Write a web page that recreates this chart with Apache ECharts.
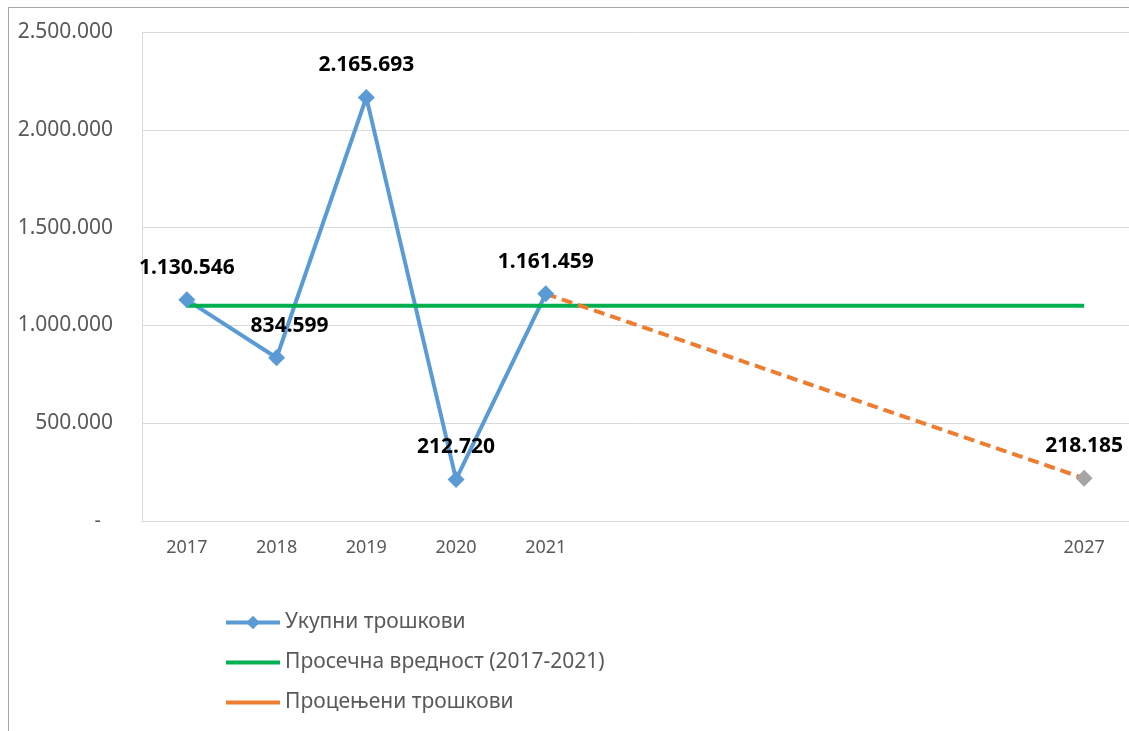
<!DOCTYPE html>
<html>
<head>
<meta charset="utf-8">
<script src="https://cdn.jsdelivr.net/npm/echarts@6/dist/echarts.min.js"></script>
<style>
  html, body { margin: 0; padding: 0; background: #fff; overflow: hidden; }
  #frame { position: absolute; left: 8px; top: 7px; width: 1300px; height: 900px;
           border-left: 1px solid #a6a6a6; border-top: 1px solid #a6a6a6; }
  #chart { position: absolute; left: 0; top: 0; width: 1129px; height: 731px; }
</style>
</head>
<body>
<div id="frame"></div>
<div id="chart"></div>
<script>
// godine na x osi (2022-2026 bez natpisa)
const years = ['2017', '2018', '2019', '2020', '2021', '', '', '', '', '', '2027']
const ukupni = [1130546, 834599, 2165693, 212720, 1161459, null, null, null, null, null, null]
const prosek = [1101003, 1101003, 1101003, 1101003, 1101003, 1101003, 1101003, 1101003, 1101003, 1101003, 1101003]
const procenjeni = [null, null, null, null, 1161459, null, null, null, null, null, 218185]
const names = ['Укупни трошкови', 'Просечна вредност (2017-2021)', 'Процењени трошкови']

const font = 'Noto Sans'

function fmt (v) {
  return String(Math.round(v)).replace(/\B(?=(\d{3})+(?!\d))/g, '.')
}

const valueLabel = {
  show: true,
  position: 'top',
  distance: 13,
  fontSize: 21,
  fontWeight: 'bold',
  color: '#000',
  formatter: function (p) { return fmt(p.value) }
}

const chart = echarts.init(document.getElementById('chart'))

const option = {
  animation: false,
  textStyle: { fontFamily: font },
  grid: {
    left: 142,
    top: 32,
    bottom: 210,
    width: 989
  },
  legend: {
    orient: 'vertical',
    left: 219,
    top: 607,
    itemWidth: 54,
    itemHeight: 17,
    itemGap: 19,
    lineStyle: { width: 4 },
    textStyle: { fontSize: 21, color: '#595959', fontFamily: font },
    data: [
      { name: names[0] },
      { name: names[1], itemStyle: { opacity: 0 } },
      { name: names[2], itemStyle: { opacity: 0 }, lineStyle: { type: 'solid', width: 4 } }
    ]
  },
  xAxis: {
    type: 'category',
    data: years,
    axisTick: { show: false },
    axisLine: { lineStyle: { color: '#d9d9d9', width: 1 } },
    axisLabel: { interval: 0, margin: 18, fontSize: 18, color: '#595959' }
  },
  yAxis: {
    type: 'value',
    min: 0,
    max: 2500000,
    interval: 500000,
    axisLine: { show: true, lineStyle: { color: '#d9d9d9' } },
    axisTick: { show: false },
    splitLine: { lineStyle: { color: '#d9d9d9', width: 1 } },
    axisLabel: {
      margin: 29,
      fontSize: 21,
      color: '#595959',
      formatter: function (v) { return v === 0 ? '{z|-}' : fmt(v) },
      rich: { z: { fontSize: 20, color: '#595959', padding: [0, 12, 0, 0] } }
    }
  },
  series: [
    {
      name: names[0],
      type: 'line',
      data: ukupni,
      symbol: 'diamond',
      symbolSize: 17,
      itemStyle: { color: '#5b9bd5' },
      lineStyle: { color: '#5b9bd5', width: 4 },
      label: valueLabel,
      labelLayout: function (p) {
        return p.dataIndex === 1 ? { dx: 13 } : {}
      }
    },
    {
      name: names[1],
      type: 'line',
      data: prosek,
      symbol: 'none',
      itemStyle: { color: '#00b050' },
      lineStyle: { color: '#00b050', width: 4 }
    },
    {
      name: names[2],
      type: 'line',
      connectNulls: true,
      data: procenjeni.map(function (v, i) {
        if (i === procenjeni.length - 1) {
          return {
            value: v,
            symbol: 'diamond',
            symbolSize: 17,
            itemStyle: { color: '#a5a5a5' },
            label: valueLabel
          }
        }
        return v
      }),
      symbol: 'none',
      itemStyle: { color: '#ed7d31' },
      lineStyle: { color: '#ed7d31', width: 4, type: [11, 6] }
    }
  ]
}

chart.setOption(option)
window.addEventListener('resize', function () { chart.resize() })
</script>
</body>
</html>
